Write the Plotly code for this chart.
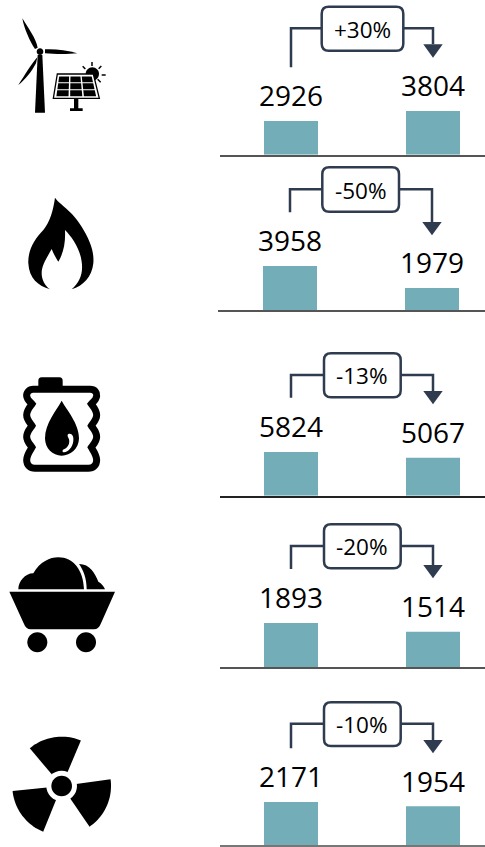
import re
import math
import plotly.graph_objects as go

# ---------- data ----------
SOURCES = ["Renewables", "Gas", "Oil", "Coal", "Nuclear"]
PERIODS = ["Before", "After"]
BEFORE = [2926, 3958, 5824, 1893, 2171]
AFTER = [3804, 1979, 5067, 1514, 1954]
CHANGE = ["+30%", "-50%", "-13%", "-20%", "-10%"]
AXIS_MAX = [8706, 8998, 13330, 4304, 5048]

# ---------- layout (pixels) ----------
W, H = 485, 847
BASELINE = [154.7, 310.0, 495.7, 667.0, 845.0]
LEFT = [220, 218.3, 220, 220, 220]
CENTER0 = [291, 290, 291, 291, 291]
PANEL_H = 100
STEP = 142
START_Y = [67.3, 212.3, 397.7, 569, 748.3]
BRACKET_Y = [28.3, 189.3, 375, 546, 723.7]
HEAD_TOP = [44.3, 222, 391, 565, 740]
HEAD_TIP = [57.7, 235.3, 404.3, 578.3, 753.3]
BOX_X = [(321.7, 403.3), (322.3, 399), (324, 400.7), (324, 400.7), (324, 400.7)]
BOX_Y = [(6.7, 50.7), (167.3, 211.7), (353.3, 397.3), (524.3, 568.3), (702.3, 746)]
BAR_COLOR = "#73ADB8"
INK = "#2F3B4F"
AXIS_COLOR = ["#555555", "#555555", "#222222", "#555555", "#777777"]
FONT = "Open Sans"

fig = go.Figure()
annotations, shapes = [], []

PX = dict(xref="x6", yref="y6")


def scaled(ox, oy, d):
    """Icon outlines were traced from a 3x enlargement: bring them back to pixels."""
    out, is_x = [], True
    for t in re.findall(r"[A-Za-z]|-?\d+\.?\d*", d):
        if t.isalpha():
            out.append(t)
            is_x = True
        else:
            v = float(t) / 3 + (ox if is_x else oy)
            out.append(f"{v:.2f}")
            is_x = not is_x
    return " ".join(out)


def icon(ox, oy, d, fill="black", line=None, width=0):
    shapes.append(dict(type="path", path=scaled(ox, oy, d), fillcolor=fill,
                       line=dict(color=line or fill, width=width), **PX))


def disc(ox, oy, cx, cy, r, fill="black"):
    k = 0.5523 * r
    icon(ox, oy, (f"M{cx-r} {cy} C{cx-r} {cy-k} {cx-k} {cy-r} {cx} {cy-r} "
                  f"C{cx+k} {cy-r} {cx+r} {cy-k} {cx+r} {cy} "
                  f"C{cx+r} {cy+k} {cx+k} {cy+r} {cx} {cy+r} "
                  f"C{cx-k} {cy+r} {cx-r} {cy+k} {cx-r} {cy} Z"), fill)


for i in range(5):
    xa = "x" if i == 0 else f"x{i+1}"
    ya = "y" if i == 0 else f"y{i+1}"
    fig.add_trace(go.Bar(x=PERIODS, y=[BEFORE[i], AFTER[i]], name=SOURCES[i], xaxis=xa, yaxis=ya,
                         marker=dict(color=BAR_COLOR, line=dict(width=0)), width=54 / STEP,
                         showlegend=False))
    suffix = "" if i == 0 else str(i + 1)
    fig.layout["xaxis" + suffix] = dict(
        domain=[LEFT[i] / W, 1], anchor=ya, type="category",
        range=[(LEFT[i] - CENTER0[i]) / STEP, (W - CENTER0[i]) / STEP],
        showgrid=False, zeroline=False, showticklabels=False, ticks="",
        showline=True, linecolor=AXIS_COLOR[i], linewidth=1.5, fixedrange=True)
    fig.layout["yaxis" + suffix] = dict(
        domain=[1 - BASELINE[i] / H, 1 - (BASELINE[i] - PANEL_H) / H], anchor=xa,
        range=[0, AXIS_MAX[i]], showgrid=False, zeroline=False, showticklabels=False,
        ticks="", showline=False, fixedrange=True)
    for p, v in zip(PERIODS, (BEFORE[i], AFTER[i])):
        annotations.append(dict(x=p, y=v, xref=xa, yref=ya, text=str(v), showarrow=False,
                                yanchor="bottom", yshift=5.7, borderpad=0,
                                font=dict(family=FONT, size=28, color="black")))
    # bracket with arrow
    x0, x1 = CENTER0[i], CENTER0[i] + STEP
    shapes.append(dict(type="path",
                       path=f"M{x0} {START_Y[i]} L{x0} {BRACKET_Y[i]} L{x1} {BRACKET_Y[i]} L{x1} {HEAD_TOP[i]}",
                       line=dict(color=INK, width=2.5), **PX))
    shapes.append(dict(type="path",
                       path=f"M{x1-9.7} {HEAD_TOP[i]} L{x1+9.7} {HEAD_TOP[i]} L{x1} {HEAD_TIP[i]} Z",
                       fillcolor=INK, line=dict(color=INK, width=0), **PX))
    (bx0, bx1), (by0, by1) = BOX_X[i], BOX_Y[i]
    r = 7
    shapes.append(dict(type="path",
                       path=(f"M{bx0+r} {by0} L{bx1-r} {by0} Q{bx1} {by0} {bx1} {by0+r} "
                             f"L{bx1} {by1-r} Q{bx1} {by1} {bx1-r} {by1} "
                             f"L{bx0+r} {by1} Q{bx0} {by1} {bx0} {by1-r} "
                             f"L{bx0} {by0+r} Q{bx0} {by0} {bx0+r} {by0} Z"),
                       fillcolor="white", line=dict(color=INK, width=2.5), **PX))
    annotations.append(dict(x=(bx0 + bx1) / 2, y=(by0 + by1) / 2 + 0.5, text=CHANGE[i], showarrow=False,
                            xanchor="center", yanchor="middle",
                            font=dict(family=FONT, size=22.5, color="black"), **PX))

# ---------- icons ----------
# wind turbine + solar panel
o = (0, 0)
icon(*o, "M113 165 L127 165 L135 338 L105 338 Z")
disc(*o, 120, 155, 10)
icon(*o, "M67 55 C85 85 108 115 113 143 L105 147 C90 125 72 85 67 55 Z")
icon(*o, "M232 160 C200 150 160 146 135 148 L135 160 C165 163 205 163 232 160 Z")
icon(*o, "M55 255 C75 225 95 190 112 172 L108 190 C95 215 75 240 55 255 Z")
disc(*o, 277, 222, 20)
for a, b, c, d in [(248, 199, 256, 207), (276, 186, 276, 198), (304, 198, 296, 206),
                   (305, 225, 317, 225), (293, 238, 302, 247)]:
    icon(*o, f"M{a} {b} L{c} {d}", fill="rgba(0,0,0,0)", line="black", width=1.5)
tl, tr, br, bl = (172, 222), (280, 222), (298, 295), (160, 295)
icon(*o, f"M{tl[0]} {tl[1]} L{tr[0]} {tr[1]} L{br[0]} {br[1]} L{bl[0]} {bl[1]} Z", fill="white", line="black", width=1.3)


def on_panel(u, v):
    lx = tl[0] + (bl[0] - tl[0]) * v
    rx = tr[0] + (br[0] - tr[0]) * v
    return lx + (rx - lx) * u, tl[1] + (bl[1] - tl[1]) * v


for row in range(3):
    for col in range(3):
        u0, u1 = 0.06 + col * 0.305, 0.06 + col * 0.305 + 0.27
        v0, v1 = 0.10 + row * 0.285, 0.10 + row * 0.285 + 0.24
        pts = [on_panel(u0, v0), on_panel(u1, v0), on_panel(u1, v1), on_panel(u0, v1)]
        icon(*o, "M" + " L".join(f"{x:.1f} {y:.1f}" for x, y in pts) + " Z")
icon(*o, "M222 295 L235 295 L235 325 L248 325 L248 333 L210 333 L210 325 L222 325 Z")

# flame
icon(0, 180, ("M165 53 C180 75 215 90 245 140 C270 180 283 215 280 250 C276 290 250 318 215 328 "
              "C240 305 250 280 245 245 C240 205 215 170 195 150 C197 190 190 220 175 245 "
              "C168 235 160 220 155 207 C140 235 125 255 125 280 C125 300 135 318 150 328 "
              "C115 318 87 295 85 250 C83 210 105 175 130 150 C150 125 160 90 165 53 Z"))

# oil barrel
o = (0, 360)
icon(*o, ("M100 88 L270 88 C285 88 291 98 290 108 C289 120 278 127 274 132 C278 138 290 150 290 165 "
          "C290 180 278 190 274 197 C278 204 290 215 290 230 C290 245 278 255 274 262 C278 269 290 285 290 300 "
          "C290 315 280 325 265 325 L105 325 C90 325 80 315 80 300 C80 285 92 269 96 262 C92 255 80 245 80 230 "
          "C80 215 92 204 96 197 C92 190 80 180 80 165 C80 150 92 138 96 132 C92 127 81 120 80 108 "
          "C79 98 87 88 100 88 Z"), fill="rgba(0,0,0,0)", line="black", width=7)
icon(*o, "M125 52 L178 52 C185 52 188 56 188 62 L188 80 L115 80 L115 62 C115 56 118 52 125 52 Z")
icon(*o, "M185 122 C170 150 135 190 135 235 C135 265 158 287 185 287 C212 287 237 265 237 235 C237 190 200 150 185 122 Z")
icon(*o, "M205 222 C215 218 222 228 220 242 C218 262 205 275 192 277 C186 277 186 270 192 268 C205 262 210 250 207 238 C205 232 200 226 205 222 Z", fill="white")

# coal cart
o = (0, 540)
icon(*o, "M237 72 C270 72 285 100 295 125 C305 130 312 140 315 148 L260 148 C260 115 250 90 237 72 Z")
icon(*o, "M55 148 C55 125 75 100 100 100 C120 65 150 52 175 52 C220 52 250 90 252 148 Z")
icon(*o, "M28 155 L345 155 L303 250 C298 262 292 268 282 268 L92 268 C82 268 76 262 71 250 Z")
disc(*o, 112, 307, 30)
disc(*o, 258, 307, 30)

# radiation sign
o = (0, 717)
cx, cy, R = 185, 207, 148
for p0, p1 in [((90, 95), (243, 70)), ((332, 187), (268, 328)), ((130, 343), (38, 222))]:
    t0 = math.atan2(p0[1] - cy, p0[0] - cx)
    t1 = math.atan2(p1[1] - cy, p1[0] - cx)
    if t1 < t0:
        t1 += 2 * math.pi
    arc = " ".join(f"L{cx + R*math.cos(t0 + (t1-t0)*s/24):.1f} {cy + R*math.sin(t0 + (t1-t0)*s/24):.1f}"
                   for s in range(25))
    icon(*o, f"M{cx} {cy} {arc} Z")
disc(*o, cx, cy, 46, "white")
disc(*o, cx, cy, 31)

fig.update_layout(
    xaxis6=dict(domain=[0, 1], range=[0, W], visible=False, anchor="y6", fixedrange=True),
    yaxis6=dict(domain=[0, 1], range=[H, 0], visible=False, anchor="x6", fixedrange=True),
    width=W, height=H, margin=dict(l=0, r=0, t=0, b=0),
    paper_bgcolor="white", plot_bgcolor="rgba(0,0,0,0)",
    showlegend=False, bargap=0.62, annotations=annotations, shapes=shapes,
)
fig.add_trace(go.Scatter(x=[0], y=[0], xaxis="x6", yaxis="y6", mode="markers",
                         marker=dict(opacity=0), hoverinfo="skip", showlegend=False))
fig.write_html("out.html", config={"displayModeBar": False},
               post_script="document.body.style.margin='0';document.body.style.overflow='hidden';")
